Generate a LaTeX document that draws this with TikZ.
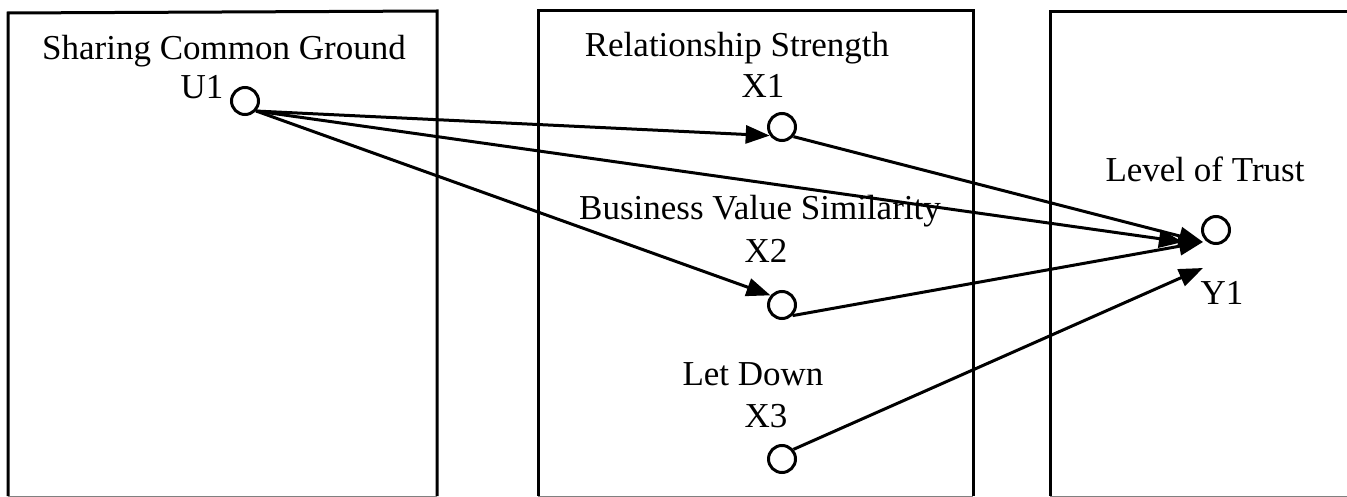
\documentclass[tikz,border=0pt]{standalone}
\usepackage{fontspec}
\setmainfont{Liberation Serif}
\usetikzlibrary{arrows.meta}
\begin{document}
\begin{tikzpicture}[x=1pt,y=-1pt,
  frame/.style={line width=3pt},
  var/.style={circle,draw,line width=3pt,minimum size=27pt,inner sep=0pt},
  lab/.style={anchor=base,inner sep=0pt,font=\fontsize{35}{40}\selectfont},
  arr/.style={line width=3pt,-{Triangle[length=24pt,width=18pt]}}]
\useasboundingbox (0,0) rectangle (1347,497);
% boxes
\draw[frame] (8,496) -- (8,13) -- (437,11) -- (437,496);
\draw[frame] (538,496) -- (538,11) -- (973,11) -- (973,496);
\draw[frame] (1050,496) -- (1050,12) -- (1360,12);
\draw[gray,line width=0.8pt] (8,496) -- (437,496);
\draw[gray,line width=0.8pt] (538,496) -- (973,496);
\draw[gray,line width=0.8pt] (1050,496) -- (1347,496);
% labels
\node[lab] (lu) at (224,60) {Sharing Common Ground};
\node[lab] (lu1) at (202,99) {U1};
\node[lab] (lx) at (737,57) {Relationship Strength};
\node[lab] (lx1) at (763,98) {X1};
\node[lab] (lb) at (760,220) {Business Value Similarity};
\node[lab] (lx2) at (766,262) {X2};
\node[lab] (ll) at (753,385) {Let Down};
\node[lab] (lx3) at (766,427) {X3};
\node[lab] (lt) at (1205,182) {Level of Trust};
\node[lab] (ly1) at (1222,304) {Y1};
% variables
\node[var] (u1) at (245,101) {};
\node[var] (x1) at (782,127) {};
\node[var] (x2) at (782,305) {};
\node[var] (x3) at (782,459) {};
\node[var] (y1) at (1216,230) {};
\coordinate (tu) at (1183,242);
\coordinate (tx) at (1203,242);
\coordinate (t3) at (1203,268);
% connectors
\draw[arr] (u1.-42) -- (x1.215);
\draw[arr] (u1.-42) -- (tu);
\draw[arr] (u1.-42) -- (x2.140);
\draw[arr] (x1.-40) -- (tx);
\draw[arr] (x2.-45) -- (tx);
\draw[arr] (x3.40) -- (t3);
\end{tikzpicture}
\end{document}
